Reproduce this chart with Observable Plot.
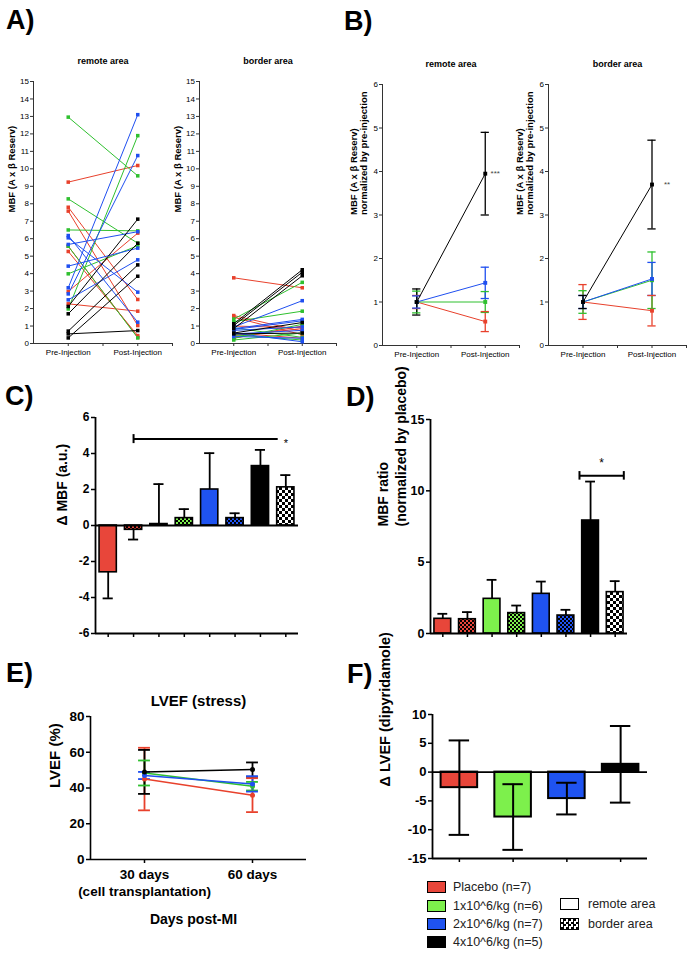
<!DOCTYPE html>
<html><head><meta charset="utf-8">
<script src="https://cdn.jsdelivr.net/npm/d3@7"></script>
<script src="https://cdn.jsdelivr.net/npm/@observablehq/plot@0.6"></script>
<style>
body{margin:0;background:#fff;}
#fig{position:relative;width:688px;height:956px;font-family:"Liberation Sans",Arial,Helvetica,sans-serif;color:#000;overflow:hidden;background:#fff;}
.lab{position:absolute;font-weight:bold;font-size:27px;line-height:27px;}
.leg{position:absolute;font-size:12.5px;line-height:14px;color:#222;white-space:nowrap;}
.sw{position:absolute;box-sizing:border-box;width:19px;height:12px;border:1.6px solid #000;}
</style></head><body>
<svg width="0" height="0" style="position:absolute"><defs>
<pattern id="pRed" width="4" height="4" patternUnits="userSpaceOnUse"><rect width="4" height="4" fill="#e8463a"/><rect width="2" height="2" fill="#000"/><rect x="2" y="2" width="2" height="2" fill="#000"/></pattern>
<pattern id="pGreen" width="4" height="4" patternUnits="userSpaceOnUse"><rect width="4" height="4" fill="#7df04c"/><rect width="2" height="2" fill="#000"/><rect x="2" y="2" width="2" height="2" fill="#000"/></pattern>
<pattern id="pBlue" width="4" height="4" patternUnits="userSpaceOnUse"><rect width="4" height="4" fill="#1f53f0"/><rect width="2" height="2" fill="#000"/><rect x="2" y="2" width="2" height="2" fill="#000"/></pattern>
<pattern id="pBW" width="6" height="6" patternUnits="userSpaceOnUse"><rect width="6" height="6" fill="#fff"/><rect width="3" height="3" fill="#000"/><rect x="3" y="3" width="3" height="3" fill="#000"/></pattern>
</defs></svg>
<div id="fig"></div>
<script>
// ---------------- DATA ----------------
const groups = ["Placebo (n=7)", "1x10^6/kg (n=6)", "2x10^6/kg (n=7)", "4x10^6/kg (n=5)"];
const areas = ["remote area", "border area"];
const phaseLabels = ["Pre-Injection", "Post-Injection"];

// Panel A (individual animals): group index 0=placebo,1=1x,2=2x,3=4x
const aGroup = [0,0,0,0,0,0,0, 1,1,1,1,1,1, 2,2,2,2,2,2,2, 3,3,3,3,3];
const aRemotePre  = [9.24,7.8,7.58,5.57,5.27,2.98,2.27, 12.96,8.28,6.5,5.57,3.99,1.98, 6.18,6.05,5.67,4.43,3.19,2.84,2.5, 2.12,1.7,0.71,0.55,0.32];
const aRemotePost = [10.19,2.52,1.03,0.35,0.45,6.32,1.85, 9.6,5.74,6.45,0.32,5.6,11.9, 1.22,2.94,6.4,5.46,13.1,10.76,4.79, 7.12,5.74,4.5,0.74,3.85];
const aBorderPre  = [3.76,1.6,1.5,1.0,0.6,0.45,0.3, 1.4,1.25,0.9,0.5,0.3,0.2, 0.95,0.85,0.8,0.75,0.6,0.55,0.4, 1.13,1.03,0.85,0.6,0.55];
const aBorderPost = [3.19,0.7,0.5,0.9,0.3,0.85,1.0, 3.5,1.85,0.35,0.2,1.1,0.6, 2.45,1.38,1.3,0.95,0.1,0.75,0.3, 4.22,4.08,3.88,1.2,0.6];
const aTicks = [0,1,2,3,4,5,6,7,8,9,10,11,12,13,14,15];
const aYLabel = "MBF (A x β Reserv)";

// Panel B (normalized by pre-injection), per group
const bPre = 1;
const bRemotePost = [0.55, 1.0, 1.44, 3.95];
const bRemotePreErr = [0.15, 0.25, 0.14, 0.3];
const bRemotePostErr = [0.23, 0.24, 0.36, 0.95];
const bBorderPost = [0.8, 1.5, 1.53, 3.7];
const bBorderPreErr = [0.4, 0.26, 0.15, 0.15];
const bBorderPostErr = [0.35, 0.65, 0.38, 1.02];
const bTicks = [0,1,2,3,4,5,6];
const bYLabel = "MBF (A x β Reserv)\nnormalized by pre-injection";

// Panel C: ΔMBF per group and area
const cGroup = [0,0,1,1,2,2,3,3];
const cArea  = [0,1,0,1,0,1,0,1];
const cValues = [-2.6, -0.24, 0.08, 0.41, 2.0, 0.41, 3.3, 2.12];
const cErr    = [1.45, 0.54, 2.22, 0.5, 2.02, 0.27, 0.9, 0.68];
const cTicks = [-6,-4,-2,0,2,4,6];
const cSig = {from: 2, to: 7.7, y: 4.8, label: "*"};
const cYLabel = "Δ MBF (a.u.)";

// Panel D: MBF ratio normalized by placebo
const dValues = [1.03, 1.0, 2.43, 1.43, 2.78, 1.26, 7.92, 2.9];
const dErr    = [0.35, 0.5, 1.33, 0.53, 0.86, 0.4, 2.73, 0.77];
const dTicks = [0,5,10,15];
const dSig = {from: 6.55, to: 8.35, y: 11.05, label: "*"};
const dYLabel = "MBF ratio\n(normalized by placebo)";

// Panel E: LVEF (stress) at 30 and 60 days
const eDays = ["30 days\n(cell transplantation)", "60 days"];
const eMean30 = [45, 48.4, 47, 49];
const eMean60 = [36, 41, 42.3, 50.3];
const eErr30  = [17.5, 7, 2, 12.3];
const eErr60  = [9.5, 2.4, 4.3, 4];
const eTicks = [0,20,40,60,80];
const eTitle = "LVEF (stress)";
const eYLabel = "LVEF (%)";
const eXLabel = "Days post-MI";

// Panel F: ΔLVEF (dipyridamole)
const fValues = [-2.7, -7.8, -4.6, 1.35];
const fErr    = [8.2, 5.7, 2.75, 6.65];
const fTicks = [-15,-10,-5,0,5,10];
const fYLabel = "Δ LVEF (dipyridamole)";

// ---------------- STYLE ----------------
const lineCol = ["#e8412c", "#2fc02f", "#1f4ff0", "#000000"];
const barCol  = ["#e8463a", "#7df04c", "#1f53f0", "#000000"];
const pattern = ["url(#pRed)", "url(#pGreen)", "url(#pBlue)", "url(#pBW)"];
const fillOf = (g, a) => a === 0 ? barCol[g] : pattern[g];
const FONT = '"Liberation Sans", Arial, Helvetica, sans-serif';
const num = d => String(d);
const fig = document.getElementById("fig");

function place(opts, left, top) {
  const el = Plot.plot({...opts, color: {type: "identity"},
    style: {fontFamily: FONT, background: "transparent", overflow: "visible", color: "#000"}});
  el.style.position = "absolute";
  el.style.left = left + "px";
  el.style.top = top + "px";
  fig.appendChild(el);
}
function html(cls, text, left, top) {
  const d = document.createElement("div");
  d.className = cls; d.textContent = text;
  d.style.left = left + "px"; d.style.top = top + "px";
  fig.appendChild(d);
  return d;
}

// ---------------- PANEL A ----------------
function panelA(pre, post, title, left, marginLeft, width, marginRight) {
  const rows = pre.map((p, i) => ({g: aGroup[i], pre: p, post: post[i]}));
  place({
    width, height: 325, marginLeft, marginRight, marginTop: 41, marginBottom: 22,
    x: {domain: [0.5, 2.5]}, y: {domain: [0, 15]},
    marks: [
      Plot.ruleX([0.5], {y1: 0, y2: 15, stroke: "#333", strokeWidth: 1}),
      Plot.ruleY([0], {x1: 0.5, x2: 2.5, stroke: "#333", strokeWidth: 1}),
      Plot.axisY({ticks: aTicks, tickFormat: num, tickSize: 3, tickPadding: 1.5, fontSize: 8, label: null, stroke: "#333"}),
      Plot.axisX({ticks: [1, 1.5, 2, 2.5], tickSize: 3, tickPadding: 3, fontSize: 8, label: null, stroke: "#333",
        tickFormat: d => d === 1 ? phaseLabels[0] : d === 2 ? phaseLabels[1] : ""}),
      Plot.link(rows, {x1: () => 1, x2: () => 2, y1: "pre", y2: "post", stroke: d => lineCol[d.g], strokeWidth: 1}),
      Plot.dot(rows, {x: () => 1, y: "pre", symbol: "square", r: 2, fill: d => lineCol[d.g]}),
      Plot.dot(rows, {x: () => 2, y: "post", symbol: "square", r: 2, fill: d => lineCol[d.g]}),
      Plot.text([title], {text: d => d, frameAnchor: "top", dy: -24, fontSize: 9, fontWeight: "bold"}),
      Plot.text([aYLabel], {text: d => d, frameAnchor: "left", dx: -22, rotate: -90, fontSize: 9.5, fontWeight: "bold"})
    ]
  }, left, 40);
}
panelA(aRemotePre, aRemotePost, areas[0], 0, 33, 180, 8);
panelA(aBorderPre, aBorderPost, areas[1], 170, 29, 175, 9);

// ---------------- PANEL B ----------------
function panelB(post, preErr, postErr, stars, starDx, title, left, marginLeft, width, marginRight, labDx) {
  const rows = post.map((p, i) => ({g: i, post: p, preErr: preErr[i], postErr: postErr[i]}));
  const cap = 0.06;
  const col = d => lineCol[d.g];
  place({
    width, height: 325, marginLeft, marginRight, marginTop: 44, marginBottom: 20,
    x: {domain: [0.5, 2.5]}, y: {domain: [0, 6]},
    marks: [
      Plot.ruleX([0.5], {y1: 0, y2: 6, stroke: "#333", strokeWidth: 1}),
      Plot.ruleY([0], {x1: 0.5, x2: 2.5, stroke: "#333", strokeWidth: 1}),
      Plot.axisY({ticks: bTicks, tickFormat: num, tickSize: 3, tickPadding: 1.5, fontSize: 8, label: null, stroke: "#333"}),
      Plot.axisX({ticks: [1, 1.5, 2, 2.5], tickSize: 3, tickPadding: 3, fontSize: 8, label: null, stroke: "#333",
        tickFormat: d => d === 1 ? phaseLabels[0] : d === 2 ? phaseLabels[1] : ""}),
      Plot.ruleX(rows, {x: () => 1, y1: d => bPre - d.preErr, y2: d => bPre + d.preErr, stroke: col, strokeWidth: 1.3}),
      Plot.ruleY(rows, {y: d => bPre - d.preErr, x1: () => 1 - cap, x2: () => 1 + cap, stroke: col, strokeWidth: 1.3}),
      Plot.ruleY(rows, {y: d => bPre + d.preErr, x1: () => 1 - cap, x2: () => 1 + cap, stroke: col, strokeWidth: 1.3}),
      Plot.ruleX(rows, {x: () => 2, y1: d => d.post - d.postErr, y2: d => d.post + d.postErr, stroke: col, strokeWidth: 1.3}),
      Plot.ruleY(rows, {y: d => d.post - d.postErr, x1: () => 2 - cap, x2: () => 2 + cap, stroke: col, strokeWidth: 1.3}),
      Plot.ruleY(rows, {y: d => d.post + d.postErr, x1: () => 2 - cap, x2: () => 2 + cap, stroke: col, strokeWidth: 1.3}),
      Plot.link(rows, {x1: () => 1, y1: () => bPre, x2: () => 2, y2: "post", stroke: col, strokeWidth: 1}),
      Plot.dot(rows, {x: () => 1, y: () => bPre, symbol: "square", r: 2.2, fill: col}),
      Plot.dot(rows, {x: () => 2, y: "post", symbol: "square", r: 2.2, fill: col}),
      Plot.text([stars], {text: d => d, x: () => 2, y: () => post[3], dx: starDx, fontSize: 8, fill: "#444"}),
      Plot.text([title], {text: d => d, frameAnchor: "top", dy: -24, fontSize: 9, fontWeight: "bold"}),
      Plot.text([bYLabel], {text: d => d, frameAnchor: "left", dx: labDx, rotate: -90, fontSize: 9.5, fontWeight: "bold", lineHeight: 1.1})
    ]
  }, left, 40);
}
panelB(bRemotePost, bRemotePreErr, bRemotePostErr, "***", 10, areas[0], 340, 42, 185, 6, -24);
panelB(bBorderPost, bBorderPreErr, bBorderPostErr, "**", 15, areas[1], 510, 38, 178, 2, -24);

// ---------------- PANEL C ----------------
const cRows = cValues.map((v, i) => ({pos: i + 1, v, e: cErr[i], g: cGroup[i], a: cArea[i]}));
const cEnd = d => d.v + Math.sign(d.v) * d.e;
place({
  width: 300, height: 240, marginLeft: 95, marginRight: 2, marginTop: 17, marginBottom: 7,
  x: {domain: [0.5, 8.5]}, y: {domain: [-6, 6]},
  marks: [
    Plot.ruleX(cRows, {x: "pos", y1: "v", y2: cEnd, strokeWidth: 1.8}),
    Plot.ruleY(cRows, {y: cEnd, x1: d => d.pos - 0.2, x2: d => d.pos + 0.2, strokeWidth: 1.8}),
    Plot.rectY(cRows, {x1: d => d.pos - 0.34, x2: d => d.pos + 0.34, y1: 0, y2: "v", fill: d => fillOf(d.g, d.a), stroke: "#000", strokeWidth: 1.6}),
    Plot.ruleY([0], {x1: 0.5, x2: 8.5, strokeWidth: 1.8}),
    Plot.ruleY([-6], {x1: 0.5, x2: 8.5, strokeWidth: 1.8}),
    Plot.ruleX([0.5], {y1: -6, y2: 6, strokeWidth: 1.8}),
    Plot.axisY({ticks: cTicks, tickFormat: num, tickSize: 4, tickPadding: 2, fontSize: 12, fontWeight: "bold", label: null, strokeWidth: 1.5}),
    Plot.axisX({ticks: cRows.map(d => d.pos), tickFormat: () => "", tickSize: 4, label: null, strokeWidth: 1.5}),
    Plot.ruleY([cSig], {y: "y", x1: "from", x2: "to", strokeWidth: 2}),
    Plot.ruleX([cSig], {x: "from", y1: d => d.y - 0.25, y2: d => d.y + 0.25, strokeWidth: 2}),
    Plot.text([cSig], {text: "label", x: d => d.to + 0.3, y: "y", dy: 4, fontSize: 11, fill: "#000"}),
    Plot.text([cYLabel], {text: d => d, frameAnchor: "left", dx: -33, rotate: -90, fontSize: 14, fontWeight: "bold"})
  ]
}, 0, 400);

// ---------------- PANEL D ----------------
const dRows = dValues.map((v, i) => ({pos: i + 1, v, e: dErr[i], g: cGroup[i], a: cArea[i]}));
place({
  width: 290, height: 240, marginLeft: 90, marginRight: 3, marginTop: 19, marginBottom: 7,
  x: {domain: [0.5, 8.5]}, y: {domain: [0, 15]},
  marks: [
    Plot.ruleX(dRows, {x: "pos", y1: "v", y2: d => d.v + d.e, strokeWidth: 1.8}),
    Plot.ruleY(dRows, {y: d => d.v + d.e, x1: d => d.pos - 0.2, x2: d => d.pos + 0.2, strokeWidth: 1.8}),
    Plot.rectY(dRows, {x1: d => d.pos - 0.34, x2: d => d.pos + 0.34, y1: 0, y2: "v", fill: d => fillOf(d.g, d.a), stroke: "#000", strokeWidth: 1.6}),
    Plot.ruleY([0], {x1: 0.5, x2: 8.5, strokeWidth: 1.8}),
    Plot.ruleX([0.5], {y1: 0, y2: 15, strokeWidth: 1.8}),
    Plot.axisY({ticks: dTicks, tickFormat: num, tickSize: 4, tickPadding: 2, fontSize: 12.5, fontWeight: "bold", label: null, strokeWidth: 1.5}),
    Plot.axisX({ticks: dRows.map(d => d.pos), tickFormat: () => "", tickSize: 4, label: null, strokeWidth: 1.5}),
    Plot.ruleY([dSig], {y: "y", x1: "from", x2: "to", strokeWidth: 2}),
    Plot.ruleX([dSig], {x: "from", y1: d => d.y - 0.3, y2: d => d.y + 0.3, strokeWidth: 2}),
    Plot.ruleX([dSig], {x: "to", y1: d => d.y - 0.3, y2: d => d.y + 0.3, strokeWidth: 2}),
    Plot.text([dSig], {text: "label", x: d => (d.from + d.to) / 2, y: d => d.y + 1.2, dy: 4, fontSize: 12, fill: "#000"}),
    Plot.text([dYLabel], {text: d => d, frameAnchor: "left", dx: -39, rotate: -90, fontSize: 14, fontWeight: "bold", lineHeight: 1.25})
  ]
}, 340, 400);

// ---------------- PANEL E ----------------
const eRows = [];
groups.forEach((g, i) => {
  eRows.push({g: i, x: 1, m: eMean30[i], e: eErr30[i]});
  eRows.push({g: i, x: 3, m: eMean60[i], e: eErr60[i]});
});
const eCol = d => lineCol[d.g];
place({
  width: 315, height: 300, marginLeft: 90, marginRight: 9, marginTop: 76, marginBottom: 81,
  x: {domain: [0, 4]}, y: {domain: [0, 80]},
  marks: [
    Plot.ruleX([0], {y1: 0, y2: 80, strokeWidth: 1.6}),
    Plot.ruleY([0], {x1: 0, x2: 4, strokeWidth: 1.6}),
    Plot.axisY({ticks: eTicks, tickFormat: num, tickSize: 4, tickPadding: 2, fontSize: 13.5, fontWeight: "bold", label: null, strokeWidth: 1.5}),
    Plot.axisX({ticks: [1, 3], tickFormat: () => "", tickSize: 4, label: null, strokeWidth: 1.5}),
    Plot.text(eDays, {text: d => d, x: (d, i) => i * 2 + 1, frameAnchor: "bottom", dy: 7, lineAnchor: "top", fontSize: 13.5, fontWeight: "bold", lineHeight: 1.26}),
    Plot.text([eXLabel], {text: d => d, frameAnchor: "bottom", dy: 64, dx: -5, fontSize: 14, fontWeight: "bold"}),
    Plot.text([eTitle], {text: d => d, frameAnchor: "top", dy: -21, fontSize: 15, fontWeight: "bold"}),
    Plot.text([eYLabel], {text: d => d, frameAnchor: "left", dx: -35, rotate: -90, fontSize: 15, fontWeight: "bold"}),
    Plot.ruleX(eRows, {x: "x", y1: d => d.m - d.e, y2: d => d.m + d.e, stroke: eCol, strokeWidth: 1.8}),
    Plot.ruleY(eRows, {y: d => d.m - d.e, x1: d => d.x - 0.11, x2: d => d.x + 0.11, stroke: eCol, strokeWidth: 1.8}),
    Plot.ruleY(eRows, {y: d => d.m + d.e, x1: d => d.x - 0.11, x2: d => d.x + 0.11, stroke: eCol, strokeWidth: 1.8}),
    Plot.line(eRows, {x: "x", y: "m", z: "g", stroke: eCol, strokeWidth: 1.5}),
    Plot.dot(eRows, {x: "x", y: "m", r: 2.5, fill: eCol})
  ]
}, 0, 640);

// ---------------- PANEL F ----------------
const fRows = fValues.map((v, i) => ({pos: i + 1, v, e: fErr[i], g: i}));
place({
  width: 310, height: 180, marginLeft: 92, marginRight: 3, marginTop: 24, marginBottom: 12,
  x: {domain: [0.5, 4.5]}, y: {domain: [-15, 10]},
  marks: [
    Plot.rectY(fRows, {x1: d => d.pos - 0.34, x2: d => d.pos + 0.34, y1: 0, y2: "v", fill: d => barCol[d.g], stroke: "#000", strokeWidth: 2}),
    Plot.ruleX(fRows, {x: "pos", y1: d => d.v - d.e, y2: d => d.v + d.e, strokeWidth: 2}),
    Plot.ruleY(fRows, {y: d => d.v - d.e, x1: d => d.pos - 0.19, x2: d => d.pos + 0.19, strokeWidth: 2}),
    Plot.ruleY(fRows, {y: d => d.v + d.e, x1: d => d.pos - 0.19, x2: d => d.pos + 0.19, strokeWidth: 2}),
    Plot.ruleY([0], {x1: 0.5, x2: 4.5, strokeWidth: 1.8}),
    Plot.ruleY([-15], {x1: 0.5, x2: 4.5, strokeWidth: 1.8}),
    Plot.ruleX([0.5], {y1: -15, y2: 10, strokeWidth: 1.8}),
    Plot.axisY({ticks: fTicks, tickFormat: num, tickSize: 4, tickPadding: 2, fontSize: 13, fontWeight: "bold", label: null, strokeWidth: 1.5}),
    Plot.axisX({ticks: fRows.map(d => d.pos), tickFormat: () => "", tickSize: 4, label: null, strokeWidth: 1.5}),
    Plot.text([fYLabel], {text: d => d, frameAnchor: "left", dx: -47, rotate: -90, fontSize: 14.5, fontWeight: "bold"})
  ]
}, 340, 690);

// ---------------- PANEL LETTERS ----------------
html("lab", "A)", 6, 7);
html("lab", "B)", 344, 8);
html("lab", "C)", 5, 383);
html("lab", "D)", 346, 384);
html("lab", "E)", 6, 660);
html("lab", "F)", 347, 661);

// ---------------- LEGEND ----------------
const legRowY = [887, 906, 924, 942];
groups.forEach((g, i) => {
  const s = html("sw", "", 427, legRowY[i] - 6);
  s.style.background = barCol[i];
  html("leg", g, 453, legRowY[i] - 7);
});
const areaY = [904, 924];
const sw1 = html("sw", "", 560, areaY[0] - 6); sw1.style.background = "#fff";
const sw2 = html("sw", "", 560, areaY[1] - 6);
sw2.style.background = "repeating-conic-gradient(#000 0 25%, #fff 0 50%)";
sw2.style.backgroundSize = "5px 5px";
sw2.style.backgroundColor = "#000";
areas.forEach((a, i) => html("leg", a, 588, areaY[i] - 7));
</script>
</body></html>
